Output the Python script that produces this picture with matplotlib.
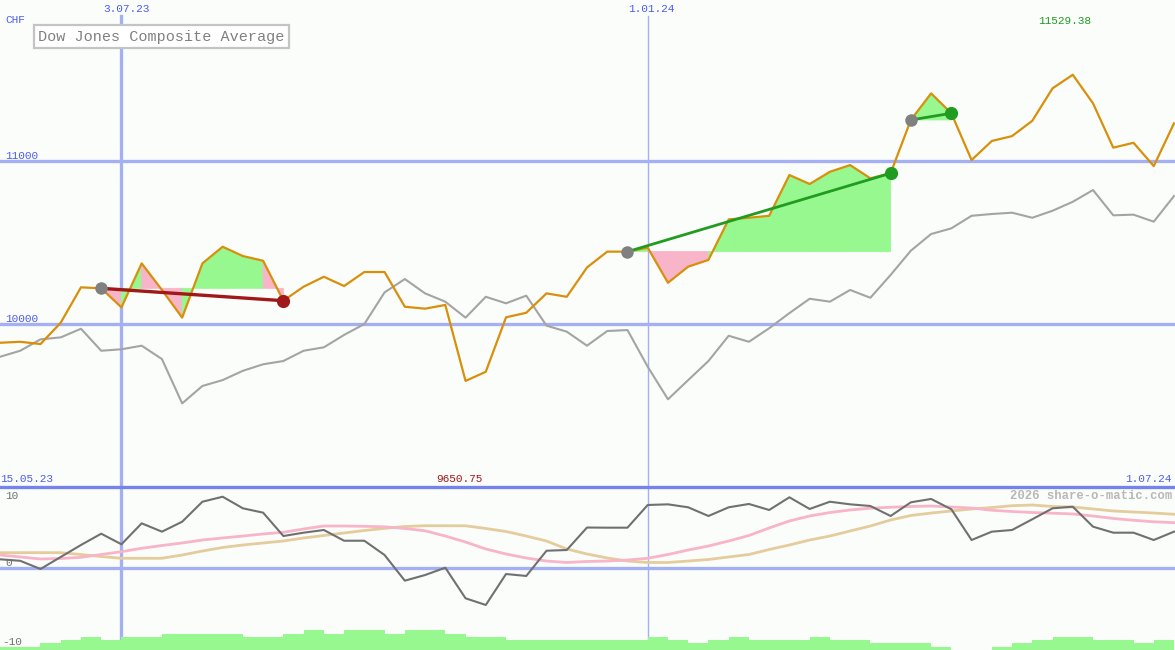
import matplotlib
matplotlib.use('Agg')
import matplotlib.pyplot as plt
from matplotlib.lines import Line2D

# ---------------- data (weekly, index 0 = 22.05.23 ... 58 = 1.07.24) ----------------
price = [9885, 9891, 9877, 10008, 10225, 10219, 10102, 10372, 10209, 10039,
         10372, 10474, 10417, 10388, 10143, 10229, 10290, 10233, 10319, 10319,
         10106, 10094, 10117, 9650.75, 9707, 10041, 10069, 10188, 10167, 10347,
         10444, 10444, 10468, 10253, 10352, 10393, 10642, 10652, 10664, 10914,
         10859, 10934, 10975, 10894, 10925, 11252, 11415, 11293, 11006, 11123,
         11153, 11247, 11446, 11529.38, 11354, 11082, 11112, 10969, 11231]

benchmark = [9799, 9836, 9906, 9918, 9971, 9836, 9845, 9867, 9785, 9513,
             9620, 9656, 9713, 9753, 9773, 9836, 9857, 9933, 10000, 10194,
             10276, 10188, 10137, 10039, 10167, 10127, 10174, 9990, 9953, 9867,
             9957, 9963, 9738, 9538, 9656, 9773, 9928, 9891, 9974, 10067,
             10155, 10137, 10209, 10161, 10301, 10450, 10552, 10587, 10664, 10675,
             10683, 10652, 10695, 10750, 10822, 10667, 10671, 10628, 10785]

momentum = [1.16, 0.95, -0.18, 1.48, 3.13, 4.69, 3.23, 6.12, 4.97, 6.34,
            9.10, 9.79, 8.19, 7.59, 4.37, 4.83, 5.20, 3.72, 3.72, 1.75,
            -1.79, -1.01, 0.0, -4.22, -5.14, -0.87, -1.14, 2.34, 2.44, 5.54,
            5.52, 5.52, 8.65, 8.74, 8.33, 7.13, 8.33, 8.79, 7.96, 9.71,
            8.10, 9.10, 8.74, 8.51, 7.13, 9.02, 9.48, 8.06, 3.82, 4.97,
            5.20, 6.68, 8.19, 8.41, 5.66, 4.83, 4.83, 3.82, 4.97]

signal_fast = [1.75, 1.48, 1.20, 1.27, 1.43, 1.82, 2.21, 2.68, 3.06, 3.41,
               3.82, 4.10, 4.37, 4.65, 4.88, 5.34, 5.75, 5.75, 5.71, 5.64,
               5.41, 5.09, 4.37, 3.54, 2.58, 1.89, 1.34, 0.92, 0.72, 0.86,
               0.92, 1.06, 1.30, 1.82, 2.44, 2.99, 3.68, 4.44, 5.48, 6.44,
               7.13, 7.61, 7.96, 8.21, 8.34, 8.44, 8.51, 8.37, 8.23, 7.92,
               7.75, 7.61, 7.52, 7.41, 7.13, 6.79, 6.54, 6.33, 6.21]

signal_slow = [2.07, 2.07, 2.07, 2.07, 1.82, 1.54, 1.30, 1.30, 1.30, 1.75,
               2.30, 2.79, 3.13, 3.41, 3.68, 4.10, 4.44, 4.79, 5.13, 5.43,
               5.68, 5.79, 5.79, 5.78, 5.41, 4.99, 4.37, 3.68, 2.58, 1.89,
               1.34, 0.92, 0.72, 0.72, 0.92, 1.13, 1.48, 1.82, 2.51, 3.13,
               3.82, 4.37, 5.06, 5.75, 6.58, 7.20, 7.54, 7.82, 8.10, 8.30,
               8.55, 8.65, 8.44, 8.37, 8.10, 7.82, 7.68, 7.54, 7.37]

volume_level = [1, 1, 2, 3, 4, 3, 4, 4, 5, 5,
                5, 5, 4, 4, 5, 6, 5, 6, 6, 5,
                6, 6, 5, 4, 4, 3, 3, 3, 3, 3,
                3, 3, 4, 3, 2, 3, 4, 3, 3, 3,
                4, 3, 3, 2, 2, 2, 1, 0, 0, 1,
                2, 3, 4, 4, 3, 3, 2, 3]

# signal periods: (start index, end index)
trades = [(5, 14), (31, 44), (45, 47)]

title = "Dow Jones Composite Average"
currency = "CHF"
date_marks = [(6, "3.07.23", 2.4), (32, "1.01.24", 1.0)]
start_label, end_label = "15.05.23", "1.07.24"
price_ticks = [10000, 11000]
osc_ticks = [10, 0, -10]

# ---------------- style ----------------
W, H = 1175, 650
BG = '#fbfdfb'
GRID = '#a4b0f2'
SEP = '#7484ea'
BLUE_TXT = '#4c5cf0'
ORANGE = '#d8900c'
GRAYL = '#a4a4a4'
GREEN_FILL = '#98f890'
PINK_FILL = '#f8b4c8'
RED = '#a01818'
GREEN = '#209c20'
FONT = 'Liberation Mono'

plt.rcParams['font.family'] = FONT

fig = plt.figure(figsize=(W / 100, H / 100), dpi=100)
fig.patch.set_facecolor(BG)
split = 163 / H
ax = fig.add_axes([0, split, 1, 1 - split])
vb = fig.add_axes([0, 0, 1, split])
lo = vb.twinx()
for a in (ax, lo, vb):
    a.set_facecolor(BG)
    for s in a.spines.values():
        s.set_visible(False)
    a.set_xticks([])
    a.set_yticks([])
lo.patch.set_visible(False)

n = len(price)
xs = list(range(n))
xmax = 58.05
ax.set_xlim(0, xmax)
lo.set_xlim(0, xmax)
vb.set_xlim(0, xmax)
ax.set_ylim(9000, 11988)
lo.set_ylim(-11.35, 11.13)
vb.set_ylim(0, 49.4)

# grid
for p in price_ticks:
    ax.axhline(p, color=GRID, lw=2.4, zorder=1)
for k, lab, lw in date_marks:
    ax.axvline(k, ymax=1 - 16 / 487, color=GRID, lw=lw, zorder=1)
    vb.axvline(k, color=GRID, lw=lw, zorder=0)
lo.axhline(0, color=GRID, lw=2.4, zorder=1)
fig.add_artist(Line2D([0, 1], [split, split], transform=fig.transFigure,
                      color=SEP, lw=2.4, zorder=5))

# trade fills
for s, e in trades:
    base = price[s]
    for i in range(s, e):
        col = GREEN_FILL if price[i + 1] >= base else PINK_FILL
        ax.fill([i, i, i + 1, i + 1], [base, price[i], price[i + 1], base],
                facecolor=col, edgecolor=col, lw=0.6, zorder=2)

# lines
ax.plot(xs, benchmark, color=GRAYL, lw=1.5, zorder=3)
ax.plot(xs, price, color=ORANGE, lw=1.6, zorder=4)

for s, e in trades:
    gain = price[e] >= price[s]
    c = GREEN if gain else RED
    ax.plot([s, e], [price[s], price[e]], color=c, lw=2.0 if gain else 2.4,
            zorder=6, solid_capstyle='butt')
    ax.plot([s], [price[s]], 'o', ms=9, color='#808080', mew=0, zorder=7)
    ax.plot([e], [price[e]], 'o', ms=9.5, color=c, mew=0, zorder=7)

# lower panel
vb.bar(list(range(len(volume_level))), volume_level, width=1.0,
       align='edge', color=GREEN_FILL, lw=0, zorder=1)
lo.plot(xs, signal_slow, color='#e4cc9c', lw=2.0, zorder=3)
lo.plot(xs, signal_fast, color='#f8b4c8', lw=2.0, zorder=3)
lo.plot(xs, momentum, color='#707070', lw=1.5, zorder=4)


def ftext(x, y, s, **kw):
    fig.text(x / W, 1 - y / H, s, **kw)


small = 8.0
ftext(5, 20, currency, color=BLUE_TXT, fontsize=small, va='center', ha='left')
ftext(126, 9, date_marks[0][1], color=BLUE_TXT, fontsize=small, va='center', ha='center')
ftext(651, 9, date_marks[1][1], color=BLUE_TXT, fontsize=small, va='center', ha='center')
ftext(5, 156, f"{price_ticks[1]}", color=BLUE_TXT, fontsize=small, va='center', ha='left')
ftext(5, 319, f"{price_ticks[0]}", color=BLUE_TXT, fontsize=small, va='center', ha='left')
ftext(0, 479, start_label, color=BLUE_TXT, fontsize=small, va='center', ha='left')
ftext(1172, 479, end_label, color=BLUE_TXT, fontsize=small, va='center', ha='right')
imin = price.index(min(price))
imax = price.index(max(price))
ftext(459, 479, f"{price[imin]:.2f}", color=RED, fontsize=small, va='center', ha='center')
ftext(1065, 21, f"{price[imax]:.2f}", color=GREEN, fontsize=small, va='center', ha='center')
ftext(5, 496, f"{osc_ticks[0]}", color='#707070', fontsize=small, va='center', ha='left')
ftext(5, 563, f"{osc_ticks[1]}", color='#707070', fontsize=small, va='center', ha='left')
ftext(2, 642, f"{osc_ticks[2]}", color='#707070', fontsize=small, va='center', ha='left')
ftext(1172, 496, "2026 share-o-matic.com", color='#b8b8b8', fontsize=8.8,
      va='center', ha='right', fontweight='bold')
ftext(38, 36.5, title, color='#808080', fontsize=10.9, va='center', ha='left',
      bbox=dict(boxstyle='square,pad=0.28', fc='white', ec='#c4c4c4', lw=1.6))

fig.savefig('out.png', dpi=100, facecolor=BG)
